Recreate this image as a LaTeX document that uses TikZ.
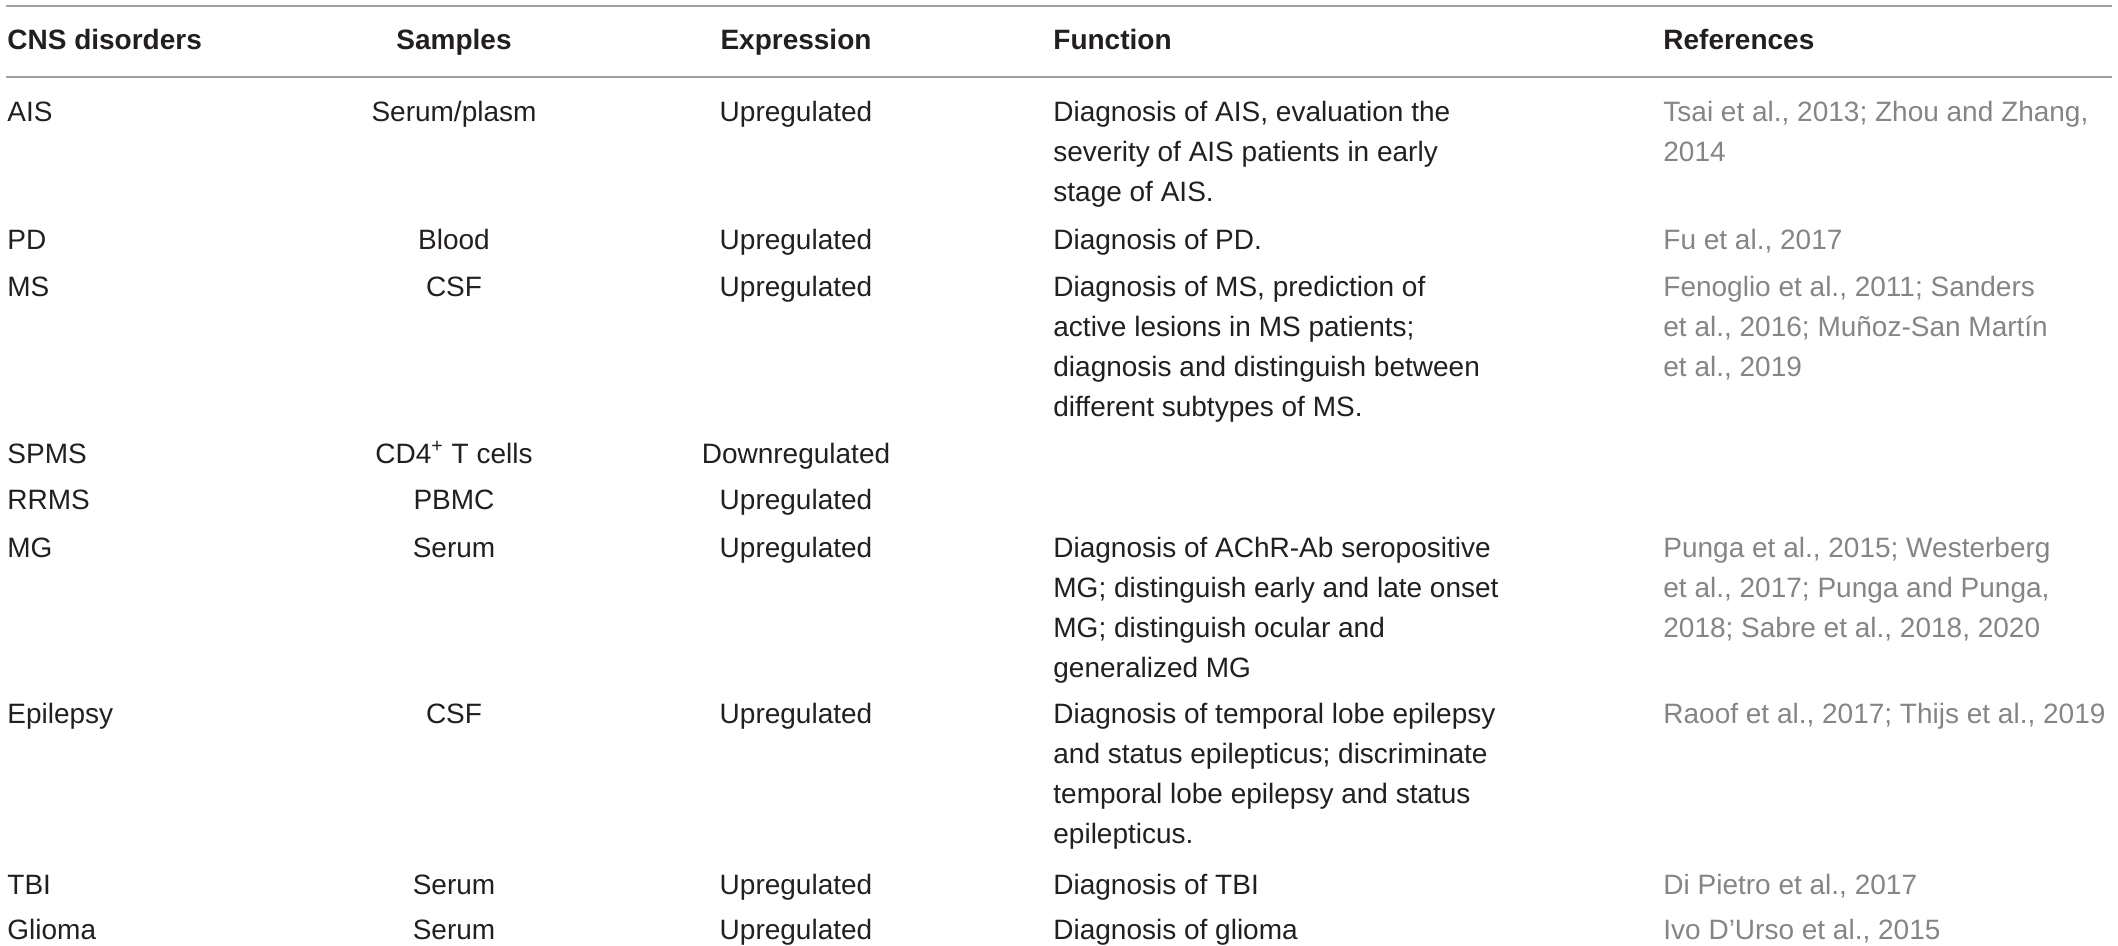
\documentclass[tikz,border=0pt]{standalone}
\usepackage{fontspec}
\setmainfont{Liberation Sans}
\definecolor{ink}{HTML}{231F20}
\definecolor{refgray}{HTML}{858585}
\definecolor{rulegray}{HTML}{A0A0A0}
\newcommand\celllines[1]{\begin{tabular}[t]{@{}l@{}}#1\end{tabular}}
\tikzset{
	cell/.style={anchor=base west, inner sep=0pt, text=ink, font=\fontsize{14}{20}\selectfont},
	mid/.style={cell, anchor=base},
	head/.style={font=\fontsize{14}{20}\selectfont\bfseries},
	refs/.style={cell, text=refgray},
	rule/.style={rulegray, line width=1pt}
}

\begin{document}
\begin{tikzpicture}[x=0.5pt, y=-0.5pt]
	\useasboundingbox (0,0) rectangle (2118,946);
	
	% rules
	\coordinate (tl) at (6,6);
	\coordinate (tr) at (2112,6);
	\coordinate (hl) at (6,77);
	\coordinate (hr) at (2112,77);
	\draw[rule] (tl) -- (tr);
	\draw[rule] (hl) -- (hr);
	
	% header
	\node[cell, head] (hdis) at (7,50) {CNS disorders};
	\node[mid, head] (hsmp) at (454,50) {Samples};
	\node[mid, head] (hexp) at (796,50) {Expression};
	\node[cell, head] (hfun) at (1053,50) {Function};
	\node[cell, head] (href) at (1663,50) {References};
	
	% AIS
	\node[cell] (dais) at (7,122) {AIS};
	\node[mid] (sais) at (454,122) {Serum/plasm};
	\node[mid] (eais) at (796,122) {Upregulated};
	\node[cell] (fais) at (1053,122) {\celllines{Diagnosis of AIS, evaluation the\\severity of AIS patients in early\\stage of AIS.}};
	\node[refs] (rais) at (1663,122) {\celllines{Tsai et al., 2013; Zhou and Zhang,\\2014}};
	
	% PD
	\node[cell] (dpd) at (7,250) {PD};
	\node[mid] (spd) at (454,250) {Blood};
	\node[mid] (epd) at (796,250) {Upregulated};
	\node[cell] (fpd) at (1053,250) {Diagnosis of PD.};
	\node[refs] (rpd) at (1663,250) {Fu et al., 2017};
	
	% MS
	\node[cell] (dms) at (7,297) {MS};
	\node[mid] (sms) at (454,297) {CSF};
	\node[mid] (ems) at (796,297) {Upregulated};
	\node[cell] (fms) at (1053,297) {\celllines{Diagnosis of MS, prediction of\\active lesions in MS patients;\\diagnosis and distinguish between\\different subtypes of MS.}};
	\node[refs] (rms) at (1663,297) {\celllines{Fenoglio et al., 2011; Sanders\\et al., 2016; Muñoz-San Martín\\et al., 2019}};
	
	% SPMS and RRMS
	\node[cell] (dspms) at (7,463) {SPMS};
	\node[mid] (sspms) at (454,463) {CD4\textsuperscript{+} T cells};
	\node[mid] (espms) at (796,463) {Downregulated};
	\node[cell] (drrms) at (7,509) {RRMS};
	\node[mid] (srrms) at (454,509) {PBMC};
	\node[mid] (errms) at (796,509) {Upregulated};
	
	% MG
	\node[cell] (dmg) at (7,557) {MG};
	\node[mid] (smg) at (454,557) {Serum};
	\node[mid] (emg) at (796,557) {Upregulated};
	\node[cell] (fmg) at (1053,557) {\celllines{Diagnosis of AChR-Ab seropositive\\MG; distinguish early and late onset\\MG; distinguish ocular and\\generalized MG}};
	\node[refs] (rmg) at (1663,557) {\celllines{Punga et al., 2015; Westerberg\\et al., 2017; Punga and Punga,\\2018; Sabre et al., 2018, 2020}};
	
	% Epilepsy
	\node[cell] (depi) at (7,723) {Epilepsy};
	\node[mid] (sepi) at (454,723) {CSF};
	\node[mid] (eepi) at (796,723) {Upregulated};
	\node[cell] (fepi) at (1053,723) {\celllines{Diagnosis of temporal lobe epilepsy\\and status epilepticus; discriminate\\temporal lobe epilepsy and status\\epilepticus.}};
	\node[refs] (repi) at (1663,723) {Raoof et al., 2017; Thijs et al., 2019};
	
	% TBI
	\node[cell] (dtbi) at (7,894) {TBI};
	\node[mid] (stbi) at (454,894) {Serum};
	\node[mid] (etbi) at (796,894) {Upregulated};
	\node[cell] (ftbi) at (1053,894) {Diagnosis of TBI};
	\node[refs] (rtbi) at (1663,894) {Di Pietro et al., 2017};
	
	% Glioma
	\node[cell] (dgli) at (7,939) {Glioma};
	\node[mid] (sgli) at (454,939) {Serum};
	\node[mid] (egli) at (796,939) {Upregulated};
	\node[cell] (fgli) at (1053,939) {Diagnosis of glioma};
	\node[refs] (rgli) at (1663,939) {Ivo D’Urso et al., 2015};
\end{tikzpicture}
\end{document}
